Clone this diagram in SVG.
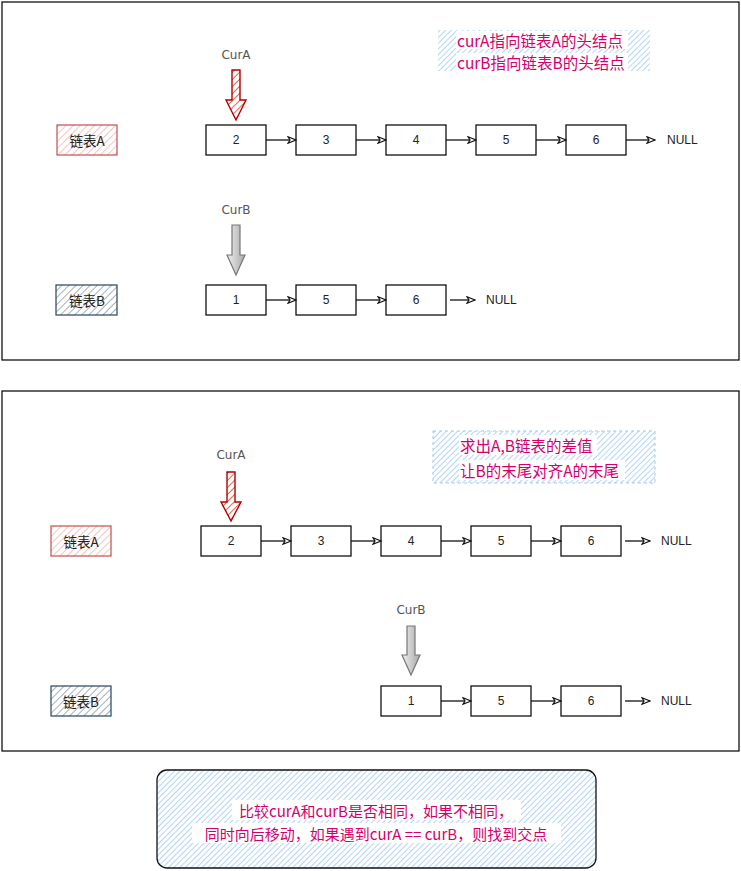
<svg xmlns="http://www.w3.org/2000/svg" width="741" height="871" viewBox="0 0 741 871">
<style>
.frame{fill:#fff;stroke:#111;stroke-width:1.3}
.node{fill:#fff;stroke:#111;stroke-width:1.3}
.num{font-family:"Liberation Sans",Arial,sans-serif;font-size:12px;fill:#222;text-anchor:middle;dominant-baseline:central}
.null{font-family:"Liberation Sans",Arial,sans-serif;font-size:12px;fill:#222;dominant-baseline:central}
.lbl{font-family:"Noto Sans CJK SC","Liberation Sans",sans-serif;font-size:13.5px;fill:#222;text-anchor:middle;dominant-baseline:central}
.cur{font-family:"DejaVu Sans","Liberation Sans",sans-serif;font-size:12px;fill:#555;text-anchor:middle;dominant-baseline:central}
.note{font-family:"Noto Sans CJK SC","Liberation Sans",sans-serif;font-size:15.5px;fill:#d4006e;dominant-baseline:central}
.conn{fill:none;stroke:#111;stroke-width:1.3;marker-end:url(#ah)}
</style>
<defs>
<marker id="ah" markerWidth="10" markerHeight="8" refX="9" refY="4" orient="auto" markerUnits="userSpaceOnUse">
<path d="M1,0.8 L9,4 L1,7.2 L3,4 Z" fill="#fff" stroke="#111" stroke-width="1.2"/>
</marker>
<pattern id="hRed" width="5" height="5" patternUnits="userSpaceOnUse" patternTransform="rotate(45)">
<line x1="0" y1="0" x2="0" y2="5" stroke="#f4b6b3" stroke-width="1.6"/>
</pattern>
<pattern id="hArrowRed" width="5" height="5" patternUnits="userSpaceOnUse" patternTransform="rotate(45)">
<line x1="0" y1="0" x2="0" y2="5" stroke="#e51400" stroke-width="1.3"/>
</pattern>
<pattern id="hBlue" width="4" height="4" patternUnits="userSpaceOnUse" patternTransform="rotate(45)">
<line x1="0" y1="0" x2="0" y2="4" stroke="#8fc3f5" stroke-width="1.4"/>
</pattern>
<pattern id="hSlate" width="5" height="5" patternUnits="userSpaceOnUse" patternTransform="rotate(45)">
<line x1="0" y1="0" x2="0" y2="5" stroke="#8d9dab" stroke-width="1.6"/>
</pattern>
<linearGradient id="gGrey" x1="0" y1="0" x2="1" y2="0">
<stop offset="0" stop-color="#f0f0f0"/>
<stop offset="1" stop-color="#a8a8a8"/>
</linearGradient>
</defs>

<g id="panel1">
<rect class="frame" x="2" y="2" width="737" height="358"/>
</g>
<g id="panel2">
<rect class="frame" x="2" y="391" width="737" height="360"/>
</g>

<!-- Panel 1 -->
<g id="p1-labelA"><rect x="57" y="125" width="60" height="30" fill="url(#hRed)" stroke="#c0504d" stroke-width="1.2"/><text class="lbl" x="87" y="140">链表A</text></g>
<g id="p1-labelB"><rect x="56" y="285" width="61" height="30" fill="url(#hSlate)" stroke="#23445d" stroke-width="1.2"/><text class="lbl" x="87" y="300">链表B</text></g>

<g id="p1-curA"><text class="cur" x="236" y="55">CurA</text>
<path d="M232,70 L240,70 L240,100 L246,100 L236,120 L226,100 L232,100 Z" fill="url(#hArrowRed)" stroke="#b20000" stroke-width="1.4"/></g>
<g id="p1-curB"><text class="cur" x="236" y="210">CurB</text>
<path d="M232,225 L240,225 L240,255 L245,255 L236,275 L227,255 L232,255 Z" fill="url(#gGrey)" stroke="#777" stroke-width="1.2"/></g>

<g id="p1-a2"><rect class="node" x="206" y="125" width="60" height="30"/><text class="num" x="236" y="140">2</text></g>
<g id="p1-a3"><rect class="node" x="296" y="125" width="60" height="30"/><text class="num" x="326" y="140">3</text></g>
<g id="p1-a4"><rect class="node" x="386" y="125" width="60" height="30"/><text class="num" x="416" y="140">4</text></g>
<g id="p1-a5"><rect class="node" x="476" y="125" width="60" height="30"/><text class="num" x="506" y="140">5</text></g>
<g id="p1-a6"><rect class="node" x="566" y="125" width="60" height="30"/><text class="num" x="596" y="140">6</text></g>
<g id="p1-anull"><text class="null" x="667" y="140">NULL</text></g>

<g id="p1-b1"><rect class="node" x="206" y="285" width="60" height="30"/><text class="num" x="236" y="300">1</text></g>
<g id="p1-b5"><rect class="node" x="296" y="285" width="60" height="30"/><text class="num" x="326" y="300">5</text></g>
<g id="p1-b6"><rect class="node" x="386" y="285" width="60" height="30"/><text class="num" x="416" y="300">6</text></g>
<g id="p1-bnull"><text class="null" x="486" y="300">NULL</text></g>

<g id="p1-note">
<rect x="438" y="30" width="212" height="41" fill="url(#hBlue)"/>
<rect x="456" y="31" width="172" height="18" fill="#fff"/>
<rect x="456" y="53" width="172" height="18" fill="#fff"/>
<text class="note" x="457" y="40">curA指向链表A的头结点</text>
<text class="note" x="457" y="62">curB指向链表B的头结点</text>
</g>

<!-- Panel 2 -->
<g id="p2-labelA"><rect x="51" y="526" width="60" height="30" fill="url(#hRed)" stroke="#c0504d" stroke-width="1.2"/><text class="lbl" x="81" y="541">链表A</text></g>
<g id="p2-labelB"><rect x="51" y="686" width="60" height="30" fill="url(#hSlate)" stroke="#23445d" stroke-width="1.2"/><text class="lbl" x="81" y="701">链表B</text></g>

<g id="p2-curA"><text class="cur" x="231" y="455">CurA</text>
<path d="M227,472 L235,472 L235,502 L241,502 L231,521 L221,502 L227,502 Z" fill="url(#hArrowRed)" stroke="#b20000" stroke-width="1.4"/></g>
<g id="p2-curB"><text class="cur" x="411" y="610">CurB</text>
<path d="M407,626 L415,626 L415,655 L420,655 L411,675 L402,655 L407,655 Z" fill="url(#gGrey)" stroke="#777" stroke-width="1.2"/></g>

<g id="p2-a2"><rect class="node" x="201" y="526" width="60" height="30"/><text class="num" x="231" y="541">2</text></g>
<g id="p2-a3"><rect class="node" x="291" y="526" width="60" height="30"/><text class="num" x="321" y="541">3</text></g>
<g id="p2-a4"><rect class="node" x="381" y="526" width="60" height="30"/><text class="num" x="411" y="541">4</text></g>
<g id="p2-a5"><rect class="node" x="471" y="526" width="60" height="30"/><text class="num" x="501" y="541">5</text></g>
<g id="p2-a6"><rect class="node" x="561" y="526" width="60" height="30"/><text class="num" x="591" y="541">6</text></g>
<g id="p2-anull"><text class="null" x="661" y="541">NULL</text></g>

<g id="p2-b1"><rect class="node" x="381" y="686" width="60" height="30"/><text class="num" x="411" y="701">1</text></g>
<g id="p2-b5"><rect class="node" x="471" y="686" width="60" height="30"/><text class="num" x="501" y="701">5</text></g>
<g id="p2-b6"><rect class="node" x="561" y="686" width="60" height="30"/><text class="num" x="591" y="701">6</text></g>
<g id="p2-bnull"><text class="null" x="661" y="701">NULL</text></g>

<g id="p2-note">
<rect x="433" y="431" width="222" height="52" fill="url(#hBlue)" stroke="#9fc9f3" stroke-width="1" stroke-dasharray="3,3"/>
<rect x="459" y="435" width="138" height="20" fill="#fff"/>
<rect x="459" y="460" width="166" height="20" fill="#fff"/>
<text class="note" x="460" y="445">求出A,B链表的差值</text>
<text class="note" x="460" y="470">让B的末尾对齐A的末尾</text>
</g>

<!-- Bottom -->
<g id="summary">
<rect x="157" y="770" width="439" height="98" rx="10" ry="10" fill="url(#hBlue)" stroke="#111" stroke-width="1.3"/>
<rect x="232" y="800" width="289" height="20" fill="#fff"/>
<rect x="192" y="823" width="369" height="20" fill="#fff"/>
<text class="note" x="376" y="810" text-anchor="middle" style="font-size:15px">比较curA和curB是否相同，如果不相同，</text>
<text class="note" x="376" y="833" text-anchor="middle" style="font-size:15px">同时向后移动，如果遇到curA == curB，则找到交点</text>
</g>

<g id="connectors">
<path class="conn" d="M266,140 L296,140"/>
<path class="conn" d="M356,140 L386,140"/>
<path class="conn" d="M446,140 L476,140"/>
<path class="conn" d="M536,140 L566,140"/>
<path class="conn" d="M626,140 L655,140"/>
<path class="conn" d="M266,300 L296,300"/>
<path class="conn" d="M356,300 L386,300"/>
<path class="conn" d="M450,300 L475,300"/>
<path class="conn" d="M261,541 L291,541"/>
<path class="conn" d="M351,541 L381,541"/>
<path class="conn" d="M441,541 L471,541"/>
<path class="conn" d="M531,541 L561,541"/>
<path class="conn" d="M625,541 L650,541"/>
<path class="conn" d="M441,701 L471,701"/>
<path class="conn" d="M531,701 L561,701"/>
<path class="conn" d="M625,701 L650,701"/>
</g>
</svg>
